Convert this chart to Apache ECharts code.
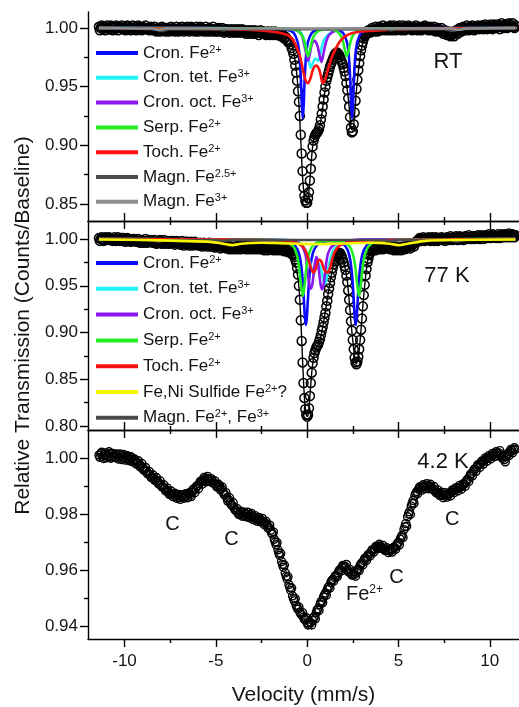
<!DOCTYPE html>
<html>
<head>
<meta charset="utf-8">
<title>Mossbauer spectra</title>
<script src="https://cdn.jsdelivr.net/npm/echarts@6/dist/echarts.min.js"></script>
<style>
  html, body { margin: 0; padding: 0; background: #fff; }
  #chart { width: 519px; height: 707px; }
</style>
</head>
<body>
<div id="chart"></div>
<script>
// channels of the spectra: even ones at -11.4 + 0.1*i, odd ones half a step later
var V_START = -11.4, V_STEP = 0.1;

// RT spectrum, even channels (rows of 1 mm/s)
var rtCounts = [
  1.001,1.000,0.999,1.001,1.000,1.000,0.999,1.001,1.000,0.999,
  1.000,1.001,1.000,0.999,1.000,1.001,0.999,1.000,1.000,0.999,
  1.001,1.000,0.999,1.000,1.001,1.000,0.999,1.000,0.999,1.000,
  0.999,0.998,0.999,0.998,0.999,1.000,0.999,0.998,0.999,0.999,
  0.998,0.999,0.998,0.999,1.000,0.999,0.999,1.000,0.999,0.998,
  0.999,1.000,0.999,0.998,0.999,0.999,1.000,0.999,0.998,0.999,
  0.998,0.999,0.999,0.998,0.999,0.998,0.999,0.998,0.998,0.999,
  0.998,0.997,0.998,0.998,0.997,0.998,0.997,0.998,0.997,0.997,
  0.997,0.996,0.997,0.997,0.996,0.997,0.996,0.996,0.997,0.996,
  0.996,0.995,0.996,0.996,0.995,0.995,0.996,0.995,0.994,0.995,
  0.994,0.993,0.992,0.990,0.989,0.986,0.981,0.973,0.962,0.946,
  0.925,0.893,0.864,0.853,0.851,0.860,0.880,0.899,0.907,0.910,
  0.912,0.917,0.927,0.939,0.950,0.958,0.964,0.969,0.973,0.977,
  0.979,0.978,0.975,0.971,0.966,0.959,0.947,0.933,0.915,0.912,
  0.928,0.948,0.964,0.976,0.985,0.991,0.994,0.996,0.997,0.998,
  0.998,0.999,0.998,0.999,1.000,0.999,1.000,0.999,1.000,1.001,
  1.000,0.999,1.000,1.001,1.000,0.999,1.000,1.000,1.001,1.000,
  0.999,1.000,1.001,1.000,1.000,0.999,1.000,1.001,1.000,0.999,
  1.000,0.999,1.000,0.999,0.999,0.998,0.999,0.998,0.997,0.997,
  0.996,0.995,0.995,0.994,0.995,0.996,0.997,0.998,0.999,0.999,
  1.000,0.999,1.000,1.001,1.000,1.000,1.001,1.000,1.001,1.000,
  1.001,1.000,1.001,1.002,1.001,1.000,1.001,1.002,1.001,1.001,
  1.002,1.001,1.002,1.001,1.002,1.003,1.002,1.001,1.002
];
// RT spectrum, odd channels
var rtCountsB = [
  0.998,1.002,1.001,0.998,1.002,0.999,1.002,0.998,1.001,1.002,
  0.998,1.001,1.002,0.999,0.998,1.002,1.001,0.998,1.002,0.999,
  0.998,1.002,1.001,0.998,0.999,1.002,1.000,0.998,1.001,0.998,
  1.001,0.997,1.000,0.997,1.001,0.998,0.997,1.000,0.997,1.001,
  1.000,0.997,1.001,0.997,0.998,1.001,0.997,0.998,1.001,0.997,
  1.001,0.998,0.997,1.001,0.997,1.001,0.998,0.997,1.001,0.997,
  1.000,0.997,1.001,0.997,0.997,1.000,0.997,1.000,0.996,0.997,
  0.999,0.996,0.999,0.996,0.999,0.996,0.999,0.996,0.999,0.998,
  0.995,0.998,0.995,0.998,0.995,0.998,0.997,0.994,0.998,0.995,
  0.997,0.994,0.997,0.994,0.997,0.994,0.997,0.994,0.996,0.993,
  0.995,0.991,0.992,0.988,0.988,0.983,0.978,0.968,0.955,0.937,
  0.909,0.878,0.857,0.851,0.855,0.870,0.891,0.904,0.909,0.911,
  0.914,0.922,0.933,0.945,0.955,0.961,0.967,0.971,0.975,0.978,
  0.979,0.977,0.973,0.969,0.963,0.953,0.940,0.924,0.911,0.918,
  0.938,0.956,0.970,0.981,0.988,0.993,0.995,0.998,0.996,1.000,
  0.997,1.001,0.997,1.001,0.998,1.002,0.998,1.001,0.998,1.002,
  0.998,1.002,0.998,0.999,1.002,0.998,1.002,0.998,0.999,1.002,
  1.001,0.998,0.999,1.002,0.998,1.001,0.998,0.999,1.002,1.001,
  0.998,1.001,0.998,1.001,0.997,1.000,0.997,1.000,0.995,0.998,
  0.994,0.997,0.993,0.996,0.993,0.998,0.995,1.000,0.997,1.001,
  0.998,1.002,0.998,0.999,1.002,0.998,0.999,1.002,0.999,1.002,
  0.999,1.003,0.999,1.000,1.003,0.999,1.003,1.000,1.003,0.999,
  1.004,1.000,1.003,1.000,1.004,1.001,1.004,1.000
];

// 77 K spectrum, even channels
var k77Counts = [
  1.001,1.000,1.000,0.999,1.001,1.000,0.999,1.000,0.999,1.000,
  0.999,1.000,0.999,0.998,0.999,0.999,0.998,0.999,0.998,0.998,
  0.999,0.998,0.998,0.997,0.998,0.997,0.998,0.997,0.997,0.998,
  0.997,0.996,0.997,0.997,0.996,0.997,0.996,0.996,0.997,0.996,
  0.996,0.997,0.996,0.995,0.996,0.996,0.995,0.996,0.995,0.995,
  0.995,0.996,0.995,0.994,0.995,0.994,0.995,0.994,0.993,0.994,
  0.994,0.993,0.994,0.993,0.993,0.992,0.993,0.992,0.991,0.992,
  0.991,0.991,0.990,0.991,0.990,0.991,0.992,0.991,0.992,0.991,
  0.992,0.991,0.991,0.992,0.991,0.990,0.991,0.992,0.991,0.990,
  0.991,0.990,0.991,0.990,0.991,0.990,0.990,0.991,0.990,0.989,
  0.990,0.989,0.989,0.988,0.987,0.986,0.984,0.981,0.975,0.962,
  0.935,0.891,0.846,0.818,0.810,0.819,0.846,0.867,0.878,0.884,
  0.887,0.893,0.902,0.911,0.921,0.934,0.947,0.959,0.969,0.976,
  0.981,0.984,0.985,0.981,0.975,0.967,0.954,0.935,0.912,0.892,
  0.873,0.866,0.874,0.892,0.915,0.940,0.961,0.975,0.983,0.987,
  0.989,0.990,0.991,0.992,0.991,0.992,0.991,0.992,0.991,0.991,
  0.990,0.991,0.990,0.989,0.990,0.991,0.990,0.991,0.992,0.991,
  0.992,0.993,0.994,0.996,0.998,0.999,1.000,0.999,1.000,1.001,
  1.000,0.999,1.000,1.001,1.000,1.000,1.001,1.000,0.999,1.000,
  1.000,1.001,1.000,1.001,1.002,1.001,1.000,1.001,1.002,1.001,
  1.001,1.002,1.001,1.002,1.001,1.002,1.003,1.002,1.001,1.002,
  1.002,1.003,1.002,1.003,1.002,1.003,1.004,1.003,1.002,1.003,
  1.003,1.004,1.003,1.004,1.003,1.004,1.003,1.004,1.004
];
// 77 K spectrum, odd channels
var k77CountsB = [
  0.998,1.002,0.998,1.002,0.999,1.002,1.001,0.998,1.002,0.998,
  1.002,0.998,1.001,1.001,0.997,1.001,1.000,0.997,1.000,1.000,
  0.997,1.000,0.996,0.999,0.996,1.000,0.996,0.999,0.999,0.996,
  0.999,0.995,0.998,0.999,0.995,0.999,0.995,0.998,0.995,0.998,
  0.998,0.994,0.998,0.997,0.994,0.998,0.993,0.997,0.997,0.993,
  0.997,0.993,0.997,0.996,0.993,0.996,0.992,0.996,0.995,0.992,
  0.996,0.992,0.995,0.991,0.995,0.994,0.990,0.994,0.993,0.990,
  0.993,0.989,0.992,0.989,0.992,0.989,0.993,0.989,0.993,0.990,
  0.989,0.993,0.989,0.993,0.989,0.992,0.989,0.993,0.989,0.992,
  0.988,0.992,0.988,0.992,0.989,0.988,0.992,0.988,0.991,0.988,
  0.991,0.987,0.990,0.986,0.987,0.984,0.983,0.978,0.969,0.950,
  0.913,0.868,0.830,0.812,0.812,0.832,0.857,0.873,0.881,0.886,
  0.890,0.897,0.906,0.916,0.928,0.941,0.953,0.964,0.973,0.979,
  0.983,0.985,0.983,0.978,0.971,0.961,0.945,0.924,0.902,0.882,
  0.868,0.869,0.882,0.903,0.928,0.951,0.968,0.979,0.985,0.988,
  0.991,0.988,0.993,0.989,0.993,0.989,0.993,0.990,0.993,0.989,
  0.992,0.988,0.992,0.988,0.991,0.988,0.992,0.989,0.990,0.993,
  0.990,0.994,0.992,0.997,0.997,1.001,0.998,1.002,0.998,0.999,
  1.002,0.998,1.002,0.998,1.002,0.998,0.999,1.002,1.001,0.998,
  1.002,0.999,1.003,0.999,1.000,1.003,0.999,1.003,1.000,0.999,
  1.003,1.000,1.004,1.000,1.003,1.000,1.001,1.004,1.000,1.004,
  1.000,1.004,1.001,1.005,1.001,1.005,1.002,1.001,1.005,1.001,
  1.005,1.002,1.005,1.002,1.006,1.002,1.005,1.002
];

// 4.2 K spectrum, even channels
var k42Counts = [
  1.0010,1.0015,1.0005,1.0012,1.0000,1.0008,1.0015,1.0003,1.0010,1.0004,
  1.0011,1.0002,1.0008,1.0000,1.0006,0.9998,1.0004,0.9995,1.0000,0.9992,
  0.9988,0.9983,0.9976,0.9972,0.9964,0.9958,0.9953,0.9945,0.9940,0.9932,
  0.9930,0.9922,0.9918,0.9910,0.9902,0.9897,0.9890,0.9885,0.9878,0.9874,
  0.9872,0.9868,0.9862,0.9866,0.9858,0.9862,0.9868,0.9860,0.9866,0.9872,
  0.9868,0.9878,0.9884,0.9892,0.9900,0.9908,0.9914,0.9922,0.9920,0.9928,
  0.9925,0.9918,0.9920,0.9910,0.9906,0.9898,0.9900,0.9890,0.9878,0.9868,
  0.9858,0.9850,0.9840,0.9830,0.9822,0.9812,0.9806,0.9800,0.9804,0.9796,
  0.9800,0.9798,0.9792,0.9797,0.9790,0.9786,0.9784,0.9780,0.9782,0.9776,
  0.9772,0.9768,0.9760,0.9752,0.9742,0.9728,0.9710,0.9690,0.9672,0.9652,
  0.9630,0.9610,0.9590,0.9568,0.9548,0.9528,0.9508,0.9490,0.9474,0.9460,
  0.9450,0.9440,0.9432,0.9424,0.9412,0.9406,0.9412,0.9420,0.9434,0.9448,
  0.9462,0.9476,0.9490,0.9504,0.9518,0.9530,0.9542,0.9556,0.9566,0.9574,
  0.9580,0.9590,0.9602,0.9608,0.9615,0.9612,0.9600,0.9594,0.9588,0.9586,
  0.9584,0.9592,0.9604,0.9616,0.9626,0.9634,0.9640,0.9648,0.9656,0.9664,
  0.9670,0.9676,0.9682,0.9686,0.9684,0.9680,0.9676,0.9672,0.9670,0.9668,
  0.9670,0.9674,0.9680,0.9688,0.9698,0.9710,0.9724,0.9744,0.9766,0.9790,
  0.9808,0.9828,0.9848,0.9866,0.9880,0.9888,0.9892,0.9896,0.9898,0.9900,
  0.9898,0.9900,0.9896,0.9890,0.9884,0.9878,0.9874,0.9870,0.9866,0.9868,
  0.9868,0.9866,0.9872,0.9878,0.9884,0.9886,0.9890,0.9894,0.9896,0.9900,
  0.9906,0.9914,0.9924,0.9934,0.9944,0.9952,0.9960,0.9968,0.9974,0.9980,
  0.9986,0.9992,0.9996,1.0000,1.0004,1.0008,1.0012,1.0014,1.0016,1.0018,
  1.0010,0.9998,0.9994,1.0004,1.0016,1.0022,1.0026,1.0028,1.0030
];
// 4.2 K spectrum, odd channels
var k42CountsB = [
  1.0002,1.0020,0.9998,1.0018,1.0006,1.0022,0.9999,1.0016,1.0002,1.0014,
  0.9996,1.0014,0.9994,1.0012,0.9992,1.0008,0.9990,1.0004,0.9986,0.9996,
  0.9978,0.9990,0.9968,0.9980,0.9956,0.9966,0.9944,0.9952,0.9930,0.9940,
  0.9920,0.9930,0.9908,0.9918,0.9896,0.9904,0.9882,0.9892,0.9870,0.9882,
  0.9862,0.9874,0.9856,0.9870,0.9852,0.9868,0.9856,0.9872,0.9858,0.9876,
  0.9862,0.9888,0.9876,0.9900,0.9890,0.9916,0.9906,0.9930,0.9914,0.9934,
  0.9916,0.9926,0.9910,0.9918,0.9896,0.9906,0.9886,0.9896,0.9870,0.9876,
  0.9846,0.9858,0.9832,0.9840,0.9814,0.9820,0.9798,0.9810,0.9792,0.9806,
  0.9790,0.9806,0.9786,0.9802,0.9780,0.9794,0.9774,0.9788,0.9772,0.9784,
  0.9762,0.9774,0.9750,0.9760,0.9732,0.9736,0.9700,0.9698,0.9660,0.9660,
  0.9620,0.9618,0.9578,0.9576,0.9538,0.9536,0.9498,0.9498,0.9466,0.9468,
  0.9444,0.9448,0.9424,0.9430,0.9404,0.9414,0.9404,0.9430,0.9426,0.9458,
  0.9456,0.9486,0.9484,0.9512,0.9510,0.9538,0.9536,0.9562,0.9560,0.9580,
  0.9576,0.9598,0.9596,0.9616,0.9608,0.9620,0.9594,0.9602,0.9582,0.9594,
  0.9578,0.9600,0.9598,0.9622,0.9618,0.9642,0.9634,0.9656,0.9650,0.9672,
  0.9664,0.9684,0.9676,0.9692,0.9678,0.9688,0.9670,0.9680,0.9662,0.9676,
  0.9664,0.9682,0.9674,0.9696,0.9690,0.9718,0.9716,0.9754,0.9756,0.9800,
  0.9798,0.9838,0.9838,0.9874,0.9872,0.9896,0.9884,0.9904,0.9890,0.9908,
  0.9890,0.9906,0.9888,0.9898,0.9876,0.9886,0.9866,0.9878,0.9858,0.9876,
  0.9860,0.9874,0.9864,0.9886,0.9876,0.9894,0.9882,0.9902,0.9888,0.9908,
  0.9898,0.9922,0.9916,0.9942,0.9936,0.9960,0.9952,0.9976,0.9966,0.9988,
  0.9978,1.0000,0.9988,1.0008,0.9996,1.0016,1.0004,1.0022,1.0008,1.0026,
  1.0002,1.0006,0.9986,1.0012,1.0008,1.0030,1.0018,1.0036
];

// RT fit and subspectra [velocity, transmission]
var rtFit = [[-11.4,1.0],[-4.0,0.999],[-2.0,0.997],[-1.2,0.994],[-0.9,0.988],[-0.7,0.976],[-0.55,0.958],[-0.45,0.935],[-0.35,0.905],[-0.25,0.873],[-0.15,0.856],[-0.05,0.851],[0.05,0.855],[0.15,0.870],[0.25,0.891],[0.35,0.904],[0.5,0.910],[0.65,0.914],[0.8,0.926],[1.0,0.949],[1.2,0.964],[1.4,0.973],[1.6,0.979],[1.8,0.976],[2.0,0.966],[2.15,0.953],[2.3,0.933],[2.42,0.914],[2.5,0.913],[2.6,0.927],[2.7,0.947],[2.85,0.969],[3.0,0.984],[3.2,0.994],[3.6,0.997],[5.0,0.999],[7.9,0.997],[9.0,0.9995],[11.4,1.0]];
var rtCronFe2 = [[-11.4,1.0],[-1.54,0.9994],[-1.04,0.9983],[-0.74,0.9958],[-0.54,0.989],[-0.44,0.980],[-0.39,0.970],[-0.34,0.955],[-0.29,0.934],[-0.24,0.923],[-0.19,0.934],[-0.14,0.955],[-0.09,0.970],[-0.04,0.980],[0.06,0.989],[0.26,0.9958],[0.56,0.9983],[1.1,0.999],[1.66,0.9983],[1.96,0.9958],[2.16,0.989],[2.26,0.980],[2.31,0.970],[2.36,0.955],[2.41,0.934],[2.46,0.923],[2.51,0.934],[2.56,0.955],[2.61,0.970],[2.66,0.980],[2.76,0.989],[2.96,0.9958],[3.26,0.9983],[3.76,0.9994],[11.4,1.0]];
var rtCronTet = [[-11.4,1.0],[-1.5,0.9995],[-0.6,0.998],[-0.3,0.995],[-0.1,0.986],[0.05,0.975],[0.2,0.966],[0.33,0.971],[0.45,0.974],[0.6,0.972],[0.75,0.980],[0.9,0.989],[1.2,0.995],[2.0,0.999],[11.4,1.0]];
var rtCronOct = [[-11.4,1.0],[-1.5,0.9995],[-0.6,0.998],[-0.3,0.994],[-0.15,0.985],[-0.05,0.978],[0.05,0.972],[0.15,0.978],[0.27,0.987],[0.42,0.989],[0.56,0.985],[0.68,0.977],[0.78,0.971],[0.88,0.977],[1.0,0.986],[1.2,0.994],[1.6,0.998],[2.5,0.9995],[11.4,1.0]];
var rtSerp = [[-11.4,1.0],[-1.25,0.9994],[-0.75,0.9986],[-0.45,0.9967],[-0.25,0.9926],[-0.15,0.988],[-0.05,0.9808],[0.05,0.976],[0.15,0.9808],[0.25,0.988],[0.35,0.9926],[0.55,0.9967],[0.85,0.9986],[1.1,0.999],[1.37,0.9986],[1.67,0.9967],[1.87,0.9926],[1.97,0.988],[2.07,0.9808],[2.17,0.976],[2.27,0.9808],[2.37,0.988],[2.47,0.9926],[2.67,0.9967],[2.97,0.9986],[3.47,0.9994],[11.4,1.0]];
var rtToch = [[-11.4,1.0],[-3.3,0.9985],[-2.0,0.997],[-1.4,0.9955],[-0.97,0.993],[-0.7,0.988],[-0.42,0.977],[-0.24,0.965],[-0.1,0.956],[0.03,0.953],[0.18,0.957],[0.33,0.965],[0.49,0.968],[0.65,0.965],[0.75,0.959],[0.85,0.953],[0.98,0.956],[1.13,0.964],[1.4,0.977],[1.77,0.988],[2.1,0.993],[2.48,0.9957],[3.0,0.997],[4.0,0.998],[5.5,0.999],[11.4,1.0]];
var rtMagn25 = [[-11.4,0.9995],[-8.4,0.999],[-7.95,0.9975],[-7.5,0.999],[-4.9,0.999],[-4.6,0.998],[-4.3,0.999],[4.3,0.999],[4.6,0.998],[4.9,0.999],[7.5,0.999],[7.95,0.9975],[8.4,0.999],[11.4,0.9995]];
var rtMagn3 = [[-11.4,1.0],[-8.5,0.9995],[-8.1,0.9985],[-7.7,0.9995],[7.8,0.9995],[8.3,0.9985],[8.7,0.9995],[11.4,1.0]];

// 77 K fit and subspectra
var k77Fit = [[-11.4,1.0],[-8.0,0.999],[-6.0,0.996],[-4.1,0.9935],[-3.0,0.992],[-1.5,0.991],[-1.0,0.987],[-0.8,0.981],[-0.65,0.972],[-0.5,0.958],[-0.4,0.934],[-0.3,0.893],[-0.2,0.848],[-0.1,0.818],[0.0,0.810],[0.08,0.815],[0.18,0.840],[0.3,0.866],[0.45,0.881],[0.6,0.887],[0.75,0.896],[0.9,0.911],[1.1,0.935],[1.3,0.959],[1.5,0.976],[1.7,0.984],[1.85,0.984],[2.0,0.976],[2.2,0.955],[2.4,0.911],[2.55,0.882],[2.68,0.866],[2.8,0.873],[2.95,0.903],[3.1,0.940],[3.3,0.975],[3.5,0.987],[4.0,0.991],[5.0,0.9905],[6.0,0.996],[7.0,1.0],[11.4,1.002]];
var k77CronFe2 = [[-11.4,1.0],[-1.67,0.999],[-1.17,0.9978],[-0.77,0.9949],[-0.52,0.9885],[-0.37,0.9776],[-0.27,0.9614],[-0.22,0.9483],[-0.17,0.9316],[-0.12,0.9153],[-0.07,0.908],[-0.02,0.9153],[0.03,0.9316],[0.08,0.9483],[0.13,0.9614],[0.23,0.9776],[0.38,0.9885],[0.63,0.9949],[1.03,0.9978],[1.3,0.998],[1.56,0.9978],[1.96,0.9949],[2.21,0.9885],[2.36,0.9776],[2.46,0.9614],[2.51,0.9483],[2.56,0.9316],[2.61,0.9153],[2.66,0.908],[2.71,0.9153],[2.76,0.9316],[2.81,0.9483],[2.86,0.9614],[2.96,0.9776],[3.11,0.9885],[3.36,0.9949],[3.76,0.9978],[4.26,0.999],[11.4,1.0]];
var k77CronTet = [[-11.4,1.0],[-1.0,0.999],[-0.4,0.996],[-0.1,0.989],[0.1,0.978],[0.2,0.972],[0.3,0.965],[0.35,0.962],[0.42,0.965],[0.5,0.971],[0.6,0.974],[0.7,0.971],[0.8,0.964],[0.9,0.956],[0.98,0.952],[1.05,0.956],[1.15,0.967],[1.3,0.981],[1.5,0.990],[1.9,0.996],[2.6,0.9985],[3.5,0.9995],[11.4,1.0]];
var k77CronOct = [[-11.4,1.0],[-1.2,0.999],[-0.6,0.997],[-0.3,0.993],[-0.1,0.984],[-0.03,0.975],[0.05,0.962],[0.12,0.951],[0.2,0.947],[0.28,0.951],[0.35,0.962],[0.43,0.975],[0.51,0.981],[0.59,0.975],[0.67,0.962],[0.74,0.951],[0.82,0.946],[0.9,0.951],[0.97,0.962],[1.05,0.975],[1.15,0.985],[1.35,0.992],[1.7,0.996],[2.3,0.9985],[3.0,0.9995],[11.4,1.0]];
var k77Serp = [[-11.4,1.0],[-2.5,0.9992],[-1.54,0.9986],[-1.04,0.9964],[-0.74,0.9916],[-0.54,0.9812],[-0.44,0.9695],[-0.34,0.9512],[-0.24,0.939],[-0.14,0.9512],[-0.04,0.9695],[0.06,0.9812],[0.26,0.9916],[0.56,0.9964],[1.3,0.998],[2.04,0.9964],[2.34,0.9916],[2.54,0.9812],[2.64,0.9695],[2.74,0.9512],[2.84,0.939],[2.94,0.9512],[3.04,0.9695],[3.14,0.9812],[3.34,0.9916],[3.64,0.9964],[4.14,0.9986],[5.0,0.9992],[11.4,1.0]];
var k77Toch = [[-11.4,1.0],[-2.0,0.999],[-0.8,0.997],[-0.3,0.993],[-0.1,0.988],[0.05,0.980],[0.15,0.973],[0.25,0.967],[0.35,0.964],[0.45,0.967],[0.55,0.974],[0.67,0.978],[0.8,0.975],[0.92,0.968],[1.03,0.965],[1.13,0.964],[1.23,0.968],[1.35,0.977],[1.5,0.986],[1.77,0.993],[2.2,0.996],[3.0,0.998],[4.5,0.999],[11.4,1.0]];
var k77Sulfide = [[-11.4,0.9995],[-9.0,0.999],[-7.0,0.998],[-5.3,0.997],[-4.6,0.995],[-4.1,0.9935],[-3.6,0.995],[-2.5,0.996],[-1.5,0.9955],[-0.5,0.995],[0.5,0.9945],[1.5,0.995],[2.5,0.9955],[3.5,0.996],[4.5,0.995],[5.0,0.9935],[5.5,0.995],[6.5,0.998],[8.0,0.999],[11.4,0.9995]];
var k77Magn = [[-11.4,0.9995],[-8.5,0.999],[-8.1,0.9975],[-7.7,0.999],[-5.0,0.999],[-4.6,0.998],[-4.2,0.999],[4.2,0.999],[4.6,0.998],[5.0,0.999],[7.8,0.999],[8.2,0.9975],[8.6,0.999],[11.4,0.9995]];

// labels of the 4.2 K panel
var noteVelocity = [-7.37, -4.14, 3.14, 4.89, 7.95];
var noteValue = [0.9762, 0.9709, 0.9514, 0.9574, 0.978];
var noteText = ['C', 'C', 'Fe{s|2+}', 'C', 'C'];

// legend names
var namesRT = ['Cron. Fe{s|2+}', 'Cron. tet. Fe{s|3+}', 'Cron. oct. Fe{s|3+}', 'Serp. Fe{s|2+}', 'Toch. Fe{s|2+}', 'Magn. Fe{s|2.5+}', 'Magn. Fe{s|3+}'];
var names77 = ['Cron. Fe{s|2+}', 'Cron. tet. Fe{s|3+}', 'Cron. oct. Fe{s|3+}', 'Serp. Fe{s|2+}', 'Toch. Fe{s|2+}', 'Fe,Ni Sulfide Fe{s|2+}?', 'Magn. Fe{s|2+}, Fe{s|3+}'];

var xMajor = [-10, -5, 0, 5, 10];
var xMinor = [-7.5, -2.5, 2.5, 7.5];

var FONT = 'Liberation Sans, Arial, Helvetica, sans-serif';
var INK = '#000';
var TEXT = '#141414';

// even and odd channels -> [velocity, value]
function toPairs(even, odd) {
  var out = even.map(function (v, i) {
    return [+(V_START + i * V_STEP).toFixed(2), v];
  });
  odd.forEach(function (v, i) {
    out.push([+(V_START + V_STEP / 2 + i * V_STEP).toFixed(2), v]);
  });
  return out;
}

function xAxisOf(grid, position, inside, ticks, showLine, len) {
  return {
    type: 'value', gridIndex: grid, position: position, min: -12, max: 11.6,
    axisLine: { show: showLine, onZero: false, lineStyle: { color: INK, width: 1.4 } },
    axisTick: { show: true, inside: inside, length: len, customValues: ticks, lineStyle: { color: INK, width: 1.4 } },
    axisLabel: { show: false },
    splitLine: { show: false }
  };
}

function yAxisOf(grid, min, max, ticks, len, showLine) {
  return {
    type: 'value', gridIndex: grid, position: 'left', min: min, max: max,
    axisLine: { show: showLine, onZero: false, lineStyle: { color: INK, width: 1.4 } },
    axisTick: { show: true, inside: false, length: len, customValues: ticks, lineStyle: { color: INK, width: 1.4 } },
    axisLabel: { show: false },
    splitLine: { show: false }
  };
}

var xAxes = [
  xAxisOf(0, 'bottom', true, xMajor, true, 8),
  xAxisOf(0, 'bottom', true, xMinor, false, 4),
  xAxisOf(1, 'top', true, xMajor, true, 8),
  xAxisOf(1, 'top', true, xMinor, false, 4),
  xAxisOf(1, 'bottom', true, xMajor, true, 8),
  xAxisOf(1, 'bottom', true, xMinor, false, 4),
  xAxisOf(2, 'top', true, xMajor, true, 8),
  xAxisOf(2, 'top', true, xMinor, false, 4),
  xAxisOf(2, 'bottom', false, xMajor, true, 8),
  xAxisOf(2, 'bottom', false, xMinor, false, 4)
];
xAxes[8].axisLabel = { show: true, customValues: xMajor, fontSize: 17, color: TEXT, margin: 14, fontFamily: FONT };
xAxes[8].name = 'Velocity (mm/s)';
xAxes[8].nameLocation = 'middle';
xAxes[8].nameGap = 46;
xAxes[8].nameTextStyle = { fontSize: 21, color: TEXT, fontFamily: FONT };

var yAxes = [
  yAxisOf(0, 0.8355, 1.0136, [0.85, 0.90, 0.95, 1.00], 8, true),
  yAxisOf(0, 0.8355, 1.0136, [0.875, 0.925, 0.975], 4, false),
  yAxisOf(1, 0.7957, 1.0193, [0.80, 0.85, 0.90, 0.95, 1.00], 8, true),
  yAxisOf(1, 0.7957, 1.0193, [0.825, 0.875, 0.925, 0.975], 4, false),
  yAxisOf(2, 0.9354, 1.00995, [0.94, 0.96, 0.98, 1.00], 8, true),
  yAxisOf(2, 0.9354, 1.00995, [0.95, 0.97, 0.99], 4, false)
];
[0, 2, 4].forEach(function (i) {
  yAxes[i].axisLabel = {
    show: true, customValues: yAxes[i].axisTick.customValues, fontSize: 17, color: TEXT, margin: 10, fontFamily: FONT,
    formatter: function (v) { return v.toFixed(2); }
  };
});
yAxes[2].name = 'Relative Transmission (Counts/Baseline)';
yAxes[2].nameLocation = 'middle';
yAxes[2].nameGap = 54;
yAxes[2].nameTextStyle = { fontSize: 21, color: TEXT, fontFamily: FONT };

function dataSeries(even, odd, xi, yi, size, border) {
  return {
    type: 'scatter', xAxisIndex: xi, yAxisIndex: yi, data: toPairs(even, odd),
    symbol: 'circle', symbolSize: size, silent: true,
    itemStyle: { color: 'rgba(0,0,0,0)', borderColor: INK, borderWidth: border, opacity: 1 }
  };
}

function curve(name, pts, color, width, xi, yi) {
  return {
    type: 'line', name: name, xAxisIndex: xi, yAxisIndex: yi, data: pts,
    color: color, showSymbol: false, smooth: 0.3, silent: true,
    lineStyle: { color: color, width: width }
  };
}

var BLUE = '#0a0aff', CYAN = '#22f4f4', PURPLE = '#8a16f0', GREEN = '#22ee22', RED = '#ff1010',
    YELLOW = '#f6f600', DGRAY = '#4a4a4a', LGRAY = '#8e8e8e';

var series = [
  dataSeries(rtCounts, rtCountsB, 0, 0, 9, 1.5),
  curve('fitRT', rtFit, INK, 1.4, 0, 0),
  curve(namesRT[0], rtCronFe2, BLUE, 2.6, 0, 0),
  curve(namesRT[1], rtCronTet, CYAN, 2.6, 0, 0),
  curve(namesRT[2], rtCronOct, PURPLE, 2.6, 0, 0),
  curve(namesRT[3], rtSerp, GREEN, 2.6, 0, 0),
  curve(namesRT[4], rtToch, RED, 2.6, 0, 0),
  curve(namesRT[5], rtMagn25, DGRAY, 2.6, 0, 0),
  curve(namesRT[6], rtMagn3, LGRAY, 2.6, 0, 0),

  dataSeries(k77Counts, k77CountsB, 4, 2, 9, 1.5),
  curve('fit77', k77Fit, INK, 1.4, 4, 2),
  curve(names77[0], k77CronFe2, BLUE, 2.6, 4, 2),
  curve(names77[1], k77CronTet, CYAN, 2.6, 4, 2),
  curve(names77[2], k77CronOct, PURPLE, 2.6, 4, 2),
  curve(names77[3], k77Serp, GREEN, 2.6, 4, 2),
  curve(names77[4], k77Toch, RED, 2.6, 4, 2),
  curve(names77[6], k77Magn, DGRAY, 2.6, 4, 2),
  curve(names77[5], k77Sulfide, YELLOW, 2.6, 4, 2),

  dataSeries(k42Counts, k42CountsB, 8, 4, 8, 1.4),
  {
    type: 'scatter', xAxisIndex: 8, yAxisIndex: 4, symbolSize: 0, silent: true,
    itemStyle: { opacity: 1 },
    data: noteVelocity.map(function (v, i) { return [v, noteValue[i], noteText[i]]; }),
    label: {
      show: true, position: 'inside', color: TEXT, fontSize: 20, fontFamily: FONT,
      formatter: function (p) { return p.data[2]; },
      rich: { s: { fontSize: 12, padding: [0, 0, 9, 0], color: TEXT, fontFamily: FONT } }
    }
  }
];

function legendOf(names, top, gap) {
  return {
    data: names, orient: 'vertical', left: 96, top: top, padding: 0,
    itemWidth: 42, itemHeight: 4, itemGap: gap, icon: 'rect', selectedMode: false,
    textStyle: {
      fontSize: 17, color: TEXT, fontFamily: FONT, lineHeight: 18,
      rich: { s: { fontSize: 11, padding: [0, 0, 7, 0], color: TEXT, fontFamily: FONT } }
    }
  };
}

var chart = echarts.init(document.getElementById('chart'), null, { renderer: 'canvas' });
chart.setOption({
  animation: false,
  backgroundColor: '#fff',
  textStyle: { fontFamily: FONT },
  grid: [
    { left: 88, top: 12, width: 431, height: 209 },
    { left: 88, top: 221, width: 431, height: 209 },
    { left: 88, top: 430, width: 431, height: 210 }
  ],
  xAxis: xAxes,
  yAxis: yAxes,
  legend: [legendOf(namesRT, 44, 6.8), legendOf(names77, 254, 7.8)],
  graphic: [
    { type: 'text', x: 448, y: 62, style: { text: 'RT', font: '22px ' + FONT, fill: TEXT, align: 'center', verticalAlign: 'middle' } },
    { type: 'text', x: 447, y: 276, style: { text: '77 K', font: '22px ' + FONT, fill: TEXT, align: 'center', verticalAlign: 'middle' } },
    { type: 'text', x: 443, y: 462, style: { text: '4.2 K', font: '22px ' + FONT, fill: TEXT, align: 'center', verticalAlign: 'middle' } }
  ],
  series: series
});
</script>
</body>
</html>
